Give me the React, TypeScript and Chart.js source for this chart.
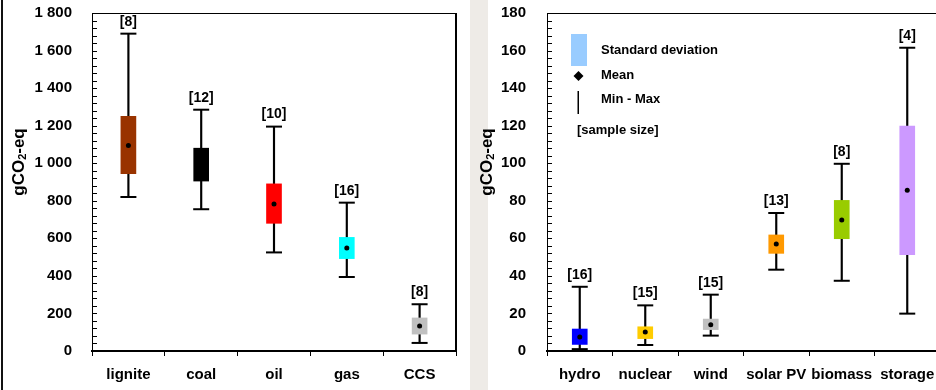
import React, { useEffect, useRef } from "react";
import { Chart, registerables } from "chart.js";

Chart.register(...registerables);

// ---------- Fossil panel data ----------
const fossilLabels = ["lignite", "coal", "oil", "gas", "CCS"];
const fossilMin = [820, 755, 525, 394, 43];
const fossilMax = [1690, 1285, 1195, 790, 249];
const fossilSdLow = [945, 905, 680, 492, 90];
const fossilSdHigh = [1250, 1080, 890, 605, 176];
const fossilMean = [1095, 1000, 783, 548, 133];
const fossilSamples = ["[8]", "[12]", "[10]", "[16]", "[8]"];
const fossilColors = ["#993300", "#000000", "#FF0000", "#00FFFF", "#C0C0C0"];
const fossilYTicks = ["0", "200", "400", "600", "800", "1 000", "1 200", "1 400", "1 600", "1 800"];

// ---------- Renewable panel data ----------
const renewLabels = ["hydro", "nuclear", "wind", "solar PV", "biomass", "storage"];
const renewMin = [1, 3.2, 8.2, 43.3, 37.4, 19.9];
const renewMax = [34.2, 24.3, 30, 73.5, 99.7, 161.5];
const renewSdLow = [3.5, 6.6, 11.4, 52, 59.8, 51.3];
const renewSdHigh = [11.7, 12.9, 17, 61.8, 80.2, 119.8];
const renewMean = [7.5, 10.1, 14, 57, 69.8, 85.6];
const renewSamples = ["[16]", "[15]", "[15]", "[13]", "[8]", "[4]"];
const renewColors = ["#0000FF", "#FFCC00", "#C0C0C0", "#FF9900", "#99CC00", "#CC99FF"];
const renewYTicks = ["0", "20", "40", "60", "80", "100", "120", "140", "160", "180"];

const legendItems = ["Standard deviation", "Mean", "Min - Max", "[sample size]"];

const FONT = "'Liberation Sans', Arial, sans-serif";

type PanelProps = {
  labels: string[];
  min: number[];
  max: number[];
  sdLow: number[];
  sdHigh: number[];
  mean: number[];
  samples: string[];
  colors: string[];
  yTicks: string[];
  yMax: number;
  yStep: number;
  yMinor: number;
  yAxisWidth: number;
  yPadding: number;
  padRight: number;
  width: number;
  titleX: number;
  titleY: number;
  showLegend: boolean;
};

function drawTitle(ctx: CanvasRenderingContext2D, x: number, y: number) {
  ctx.save();
  ctx.translate(x, y);
  ctx.rotate(-Math.PI / 2);
  ctx.fillStyle = "#000";
  ctx.textBaseline = "middle";
  const big = `bold 17px ${FONT}`;
  const small = `bold 11px ${FONT}`;
  ctx.font = big;
  const w1 = ctx.measureText("gCO").width;
  const w3 = ctx.measureText("-eq").width;
  ctx.font = small;
  const w2 = ctx.measureText("2").width;
  const total = w1 + w2 + w3;
  let cx = -total / 2;
  ctx.textAlign = "left";
  ctx.font = big;
  ctx.fillText("gCO", cx, 0);
  cx += w1;
  ctx.font = small;
  ctx.fillText("2", cx, 4);
  cx += w2;
  ctx.font = big;
  ctx.fillText("-eq", cx, 0);
  ctx.restore();
}

function drawLegend(ctx: CanvasRenderingContext2D, left: number, top: number) {
  ctx.save();
  const ox = left;
  const oy = top;
  ctx.fillStyle = "#99CCFF";
  ctx.fillRect(ox + 24, oy + 21, 16, 32);
  ctx.fillStyle = "#000";
  ctx.beginPath();
  const dx = ox + 31.5, dy = oy + 63;
  ctx.moveTo(dx, dy - 5);
  ctx.lineTo(dx + 5, dy);
  ctx.lineTo(dx, dy + 5);
  ctx.lineTo(dx - 5, dy);
  ctx.closePath();
  ctx.fill();
  ctx.fillRect(ox + 30.5, oy + 78, 1.5, 23);
  ctx.font = `bold 13px ${FONT}`;
  ctx.textBaseline = "middle";
  ctx.textAlign = "left";
  ctx.fillText(legendItems[0], ox + 54, oy + 37);
  ctx.fillText(legendItems[1], ox + 54, oy + 62);
  ctx.fillText(legendItems[2], ox + 54, oy + 86);
  ctx.fillText(legendItems[3], ox + 30, oy + 117);
  ctx.restore();
}

function BoxPanel(p: PanelProps) {
  const ref = useRef<HTMLCanvasElement | null>(null);
  useEffect(() => {
    if (!ref.current) return;
    const overlay = {
      id: "overlay",
      afterDraw(chart: any) {
        const ctx = chart.ctx as CanvasRenderingContext2D;
        const xs = chart.scales.x;
        const ys = chart.scales.y;
        ctx.save();
        ctx.fillStyle = "#000";
        const L = Math.round(xs.left), R = Math.round(xs.right);
        const T = Math.round(ys.top), B = Math.round(ys.bottom);
        // frame
        ctx.fillRect(L, T, 1, B - T);
        ctx.fillRect(L, T, R - L, 1);
        ctx.fillRect(R - 1, T, 1, B - T);
        ctx.fillRect(L, B - 1, R - L, 2);
        // minor ticks inside
        for (let v = 0; v <= p.yMax + 1e-9; v += p.yMinor) {
          const y = Math.round(ys.getPixelForValue(v));
          ctx.fillRect(L, y, 5, 1);
        }
        // sample size labels
        ctx.font = `bold 14px ${FONT}`;
        ctx.textAlign = "center";
        ctx.textBaseline = "middle";
        p.samples.forEach((s, i) => {
          const x = xs.getPixelForValue(i);
          const y = ys.getPixelForValue(p.max[i]) - 12;
          ctx.fillText(s, x, y);
        });
        ctx.restore();
        drawTitle(ctx, p.titleX, p.titleY);
        if (p.showLegend) drawLegend(ctx, L, T);
      },
    };
    const chart = new Chart(ref.current, {
      type: "bar",
      data: {
        labels: p.labels,
        datasets: [
          {
            type: "bar",
            data: p.labels.map((_, i) => [p.min[i], p.max[i]]),
            backgroundColor: "#000",
            barThickness: 1.5,
            grouped: false,
            order: 5,
          } as any,
          {
            type: "bar",
            data: p.labels.map((_, i) => [p.sdLow[i], p.sdHigh[i]]),
            backgroundColor: p.colors,
            barThickness: 15,
            grouped: false,
            borderWidth: 0,
            order: 4,
          } as any,
          {
            type: "line",
            data: p.max,
            showLine: false,
            pointStyle: "line",
            pointRadius: 8,
            borderColor: "#000",
            borderWidth: 2,
            order: 3,
          } as any,
          {
            type: "line",
            data: p.min,
            showLine: false,
            pointStyle: "line",
            pointRadius: 8,
            borderColor: "#000",
            borderWidth: 2,
            order: 2,
          } as any,
          {
            type: "line",
            data: p.mean,
            showLine: false,
            pointStyle: "circle",
            pointRadius: 2.5,
            backgroundColor: "#000",
            borderColor: "#000",
            borderWidth: 0,
            order: 1,
          } as any,
        ],
      },
      options: {
        animation: false,
        responsive: false,
        events: [],
        layout: { padding: { top: 13, right: p.padRight, left: 0, bottom: 0 } },
        plugins: { legend: { display: false }, tooltip: { enabled: false } },
        scales: {
          x: {
            grid: {
              display: true,
              drawOnChartArea: false,
              drawTicks: true,
              tickLength: 5,
              offset: true,
              color: "#000",
              lineWidth: 1,
            },
            border: { display: true, color: "#000", width: 2 },
            ticks: {
              color: "#000",
              font: { family: FONT, weight: "bold", size: 15 },
              padding: 10,
              maxRotation: 0,
              autoSkip: false,
            },
            afterFit: (s: any) => {
              s.height = 39;
              s.paddingLeft = 0;
              s.paddingRight = 0;
            },
          },
          xTop: {
            type: "category",
            position: "top",
            labels: p.labels,
            grid: { display: false, drawTicks: false },
            ticks: { display: false },
            border: { display: true, color: "#000", width: 1 },
            afterFit: (s: any) => {
              s.height = 0;
              s.paddingLeft = 0;
              s.paddingRight = 0;
            },
          },
          y: {
            min: 0,
            max: p.yMax,
            grid: { display: false },
            border: { display: true, color: "#000", width: 1 },
            ticks: {
              stepSize: p.yStep,
              color: "#000",
              font: { family: FONT, weight: "bold", size: 15 },
              padding: p.yPadding,
              callback: (_v: any, i: number) => p.yTicks[i],
            },
            afterFit: (s: any) => {
              s.width = p.yAxisWidth;
              s.paddingTop = 0;
              s.paddingBottom = 0;
            },
          },
          yRight: {
            type: "linear",
            position: "right",
            min: 0,
            max: p.yMax,
            grid: { display: false, drawTicks: false },
            ticks: { display: false },
            border: { display: true, color: "#000", width: 1 },
            afterFit: (s: any) => {
              s.width = 0;
              s.paddingTop = 0;
              s.paddingBottom = 0;
            },
          },
        },
      } as any,
      plugins: [overlay],
    });
    return () => chart.destroy();
  }, []);
  return (
    <canvas
      ref={ref}
      width={p.width}
      height={390}
      style={{ display: "block", width: p.width, height: 390 }}
    />
  );
}

export default function App() {
  return (
    <div
      style={{
        position: "fixed",
        left: 0,
        top: 0,
        width: 936,
        height: 390,
        overflow: "hidden",
        background: "#fff",
      }}
    >
      <div style={{ position: "absolute", left: 1, top: 0, width: 2, height: 390, background: "#111" }} />
      <div style={{ position: "absolute", left: 470, top: 0, width: 18, height: 390, background: "#EEEBE7" }} />
      <div style={{ position: "absolute", left: 0, top: 0 }}>
        <BoxPanel
          labels={fossilLabels}
          min={fossilMin}
          max={fossilMax}
          sdLow={fossilSdLow}
          sdHigh={fossilSdHigh}
          mean={fossilMean}
          samples={fossilSamples}
          colors={fossilColors}
          yTicks={fossilYTicks}
          yMax={1800}
          yStep={200}
          yMinor={40}
          yAxisWidth={92}
          yPadding={12}
          padRight={4}
          width={466}
          titleX={19}
          titleY={162}
          showLegend={false}
        />
      </div>
      <div style={{ position: "absolute", left: 466, top: 0 }}>
        <BoxPanel
          labels={renewLabels}
          min={renewMin}
          max={renewMax}
          sdLow={renewSdLow}
          sdHigh={renewSdHigh}
          mean={renewMean}
          samples={renewSamples}
          colors={renewColors}
          yTicks={renewYTicks}
          yMax={180}
          yStep={20}
          yMinor={4}
          yAxisWidth={81}
          yPadding={13}
          padRight={4}
          width={484}
          titleX={21}
          titleY={162}
          showLegend={true}
        />
      </div>
    </div>
  );
}
